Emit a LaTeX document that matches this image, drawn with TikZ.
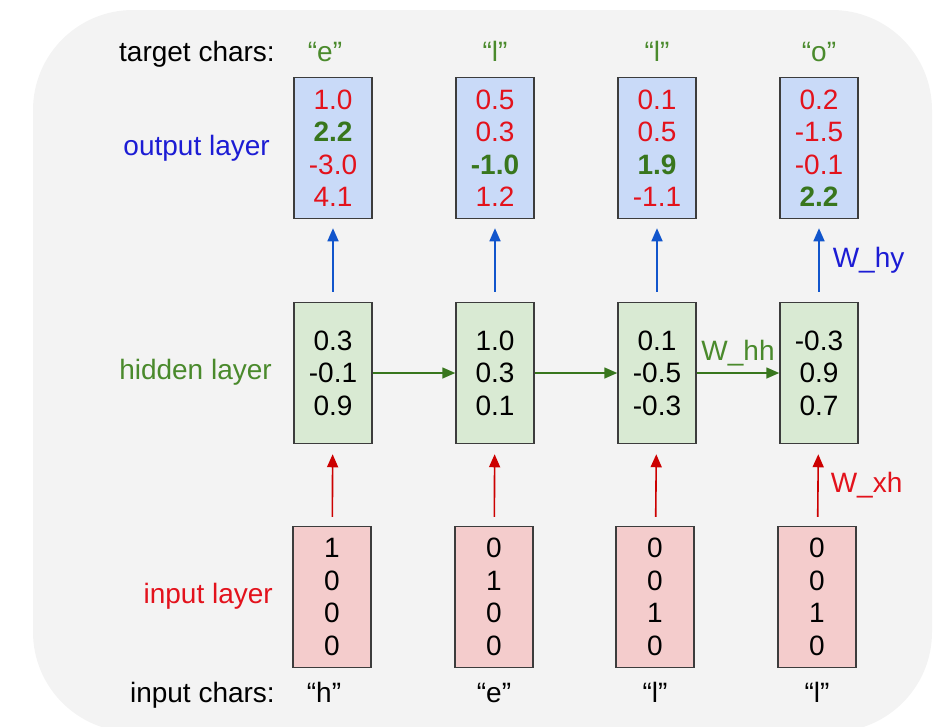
\documentclass[tikz,border=0pt]{standalone}
\usepackage{fontspec}
\setmainfont{Liberation Sans}
\usetikzlibrary{arrows.meta}

\definecolor{bggray}{HTML}{F3F3F3}
\definecolor{outfill}{HTML}{C9DAF8}
\definecolor{hidfill}{HTML}{D9EAD3}
\definecolor{infill}{HTML}{F4CCCC}
\definecolor{boxline}{HTML}{3C3C3C}
\definecolor{txtblue}{HTML}{1C1CD4}
\definecolor{txtred}{HTML}{E3121C}
\definecolor{txtgreen}{HTML}{4A8A2C}
\definecolor{numgreen}{HTML}{38761D}
\definecolor{arrblue}{HTML}{1155CC}
\definecolor{arrred}{HTML}{CC0000}
\definecolor{arrgreen}{HTML}{38761D}

\newcommand{\best}[1]{\textcolor{numgreen}{\bfseries #1}}

\tikzset{
  lbl/.style={font=\fontsize{28}{32.5}\selectfont, inner sep=0pt},
  vecbox/.style={lbl, draw=boxline, line width=1.5pt, minimum width=78pt,
    minimum height=141pt, align=center},
  outbox/.style={vecbox, fill=outfill, text=txtred},
  hidbox/.style={vecbox, fill=hidfill},
  inbox/.style={vecbox, fill=infill},
  link/.style={line width=1.6pt, -{Triangle[length=13pt,width=11pt]}},
}

\begin{document}
\begin{tikzpicture}[x=1pt,y=-1pt]
  \useasboundingbox (0,0) rectangle (950,726);
  % background panel
  \fill[bggray, rounded corners=100pt] (33,10) rectangle (932,732);
  % row labels
  \node[lbl, anchor=base east] (tgtlbl) at (275,61) {target chars:};
  \node[lbl, anchor=base east, text=txtblue] (outlbl) at (270,155) {output layer};
  \node[lbl, anchor=base east, text=txtgreen] (hidlbl) at (272,379) {hidden layer};
  \node[lbl, anchor=base east, text=txtred] (inlbl) at (273,603) {input layer};
  \node[lbl, anchor=base east] (chrlbl) at (275,702) {input chars:};
  % target chars
  \node[lbl, anchor=base, text=txtgreen] (tgt1) at (325,61) {“e”};
  \node[lbl, anchor=base, text=txtgreen] (tgt2) at (495,61) {“l”};
  \node[lbl, anchor=base, text=txtgreen] (tgt3) at (657,61) {“l”};
  \node[lbl, anchor=base, text=txtgreen] (tgt4) at (819,61) {“o”};
  % output layer
  \node[outbox] (out1) at (333,148) {1.0\\\best{2.2}\\-3.0\\4.1};
  \node[outbox] (out2) at (495,148) {0.5\\0.3\\\best{-1.0}\\1.2};
  \node[outbox] (out3) at (657,148) {0.1\\0.5\\\best{1.9}\\-1.1};
  \node[outbox] (out4) at (819,148) {0.2\\-1.5\\-0.1\\\best{2.2}};
  % hidden layer
  \node[hidbox] (hid1) at (333,373) {0.3\\-0.1\\0.9};
  \node[hidbox] (hid2) at (495,373) {1.0\\0.3\\0.1};
  \node[hidbox] (hid3) at (657,373) {0.1\\-0.5\\-0.3};
  \node[hidbox] (hid4) at (819,373) {-0.3\\0.9\\0.7};
  % input layer
  \node[inbox] (in1) at (332,597) {1\\0\\0\\0};
  \node[inbox] (in2) at (494,597) {0\\1\\0\\0};
  \node[inbox] (in3) at (655,597) {0\\0\\1\\0};
  \node[inbox] (in4) at (817,597) {0\\0\\1\\0};
  % input chars
  \node[lbl, anchor=base] (chr1) at (324,702) {“h”};
  \node[lbl, anchor=base] (chr2) at (494,702) {“e”};
  \node[lbl, anchor=base] (chr3) at (655,702) {“l”};
  \node[lbl, anchor=base] (chr4) at (817,702) {“l”};
  % connections
  \foreach \i in {1,2,3} {
    \draw[link, arrblue, shorten <=10pt, shorten >=9pt] (hid\i) -- (out\i);
    \draw[link, arrred, shorten <=9pt, shorten >=10pt] (in\i) -- (hid\i);
  }
  \draw[link, arrblue, shorten <=10pt, shorten >=9pt] (hid4) -- (out4)
    node[lbl, midway, right=13pt, text=txtblue] (why) {W\_hy};
  \draw[link, arrred, shorten <=9pt, shorten >=10pt] (in4) -- (hid4)
    node[lbl, midway, right=12pt, text=txtred] (wxh) {W\_xh};
  \draw[link, arrgreen] (hid1) -- (hid2);
  \draw[link, arrgreen] (hid2) -- (hid3);
  \draw[link, arrgreen] (hid3) -- (hid4)
    node[lbl, midway, above=6pt, text=txtgreen] (whh) {W\_hh};
\end{tikzpicture}
\end{document}
